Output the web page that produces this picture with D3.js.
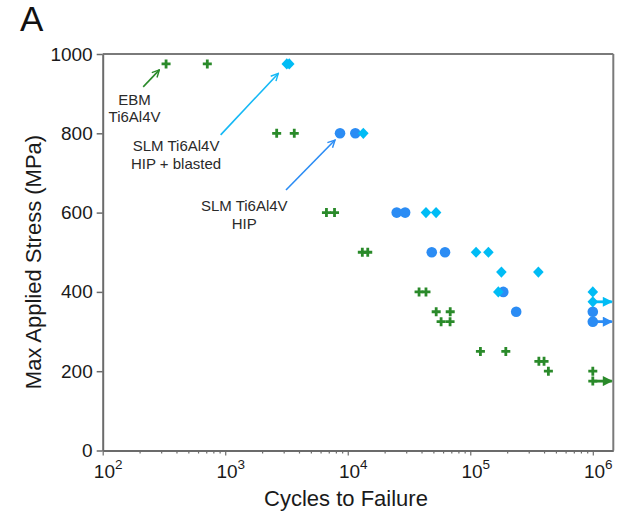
<!DOCTYPE html>
<html>
<head>
<meta charset="utf-8">
<script src="https://cdn.jsdelivr.net/npm/d3@7"></script>
<style>
  html, body { margin: 0; padding: 0; background: #fff; }
  svg { display: block; }
  svg text { font-family: "Liberation Sans", Arial, sans-serif; }
</style>
</head>
<body>
<svg id="chart" width="623" height="519"></svg>
<script>
// ---------- data ----------
const ebmN = [329, 714, 2630, 3660, 6700, 7800, 13150, 14560, 38200, 43500, 52700, 68600, 57800, 68400, 121000, 195000, 363000, 400000, 434000, 1000000, 1000000];
const ebmS = [975, 975, 800, 800, 600, 600, 500, 500, 400, 400, 350, 350, 325, 325, 250, 250, 225, 225, 200, 200, 175];

const hipN = [8650, 11530, 25100, 29400, 48500, 62200, 186000, 237000, 1000000, 1000000];
const hipS = [800, 800, 600, 600, 500, 500, 400, 350, 350, 325];

const blastN = [3180, 3330, 13400, 43500, 52600, 111500, 140600, 179500, 359500, 169400, 1000000, 1000000];
const blastS = [975, 975, 800, 600, 600, 500, 500, 450, 450, 400, 400, 375];

// run-outs (tests stopped without failure)
const runoutSeries = ["EBM", "HIP", "Blasted"];
const runoutS = [175, 325, 375];
const runoutStartN = 1000000;
const runoutEndN = 1430000;

const xTickValues = [1e2, 1e3, 1e4, 1e5, 1e6];
const xTickExp = ["2", "3", "4", "5", "6"];
const yTickValues = [0, 200, 400, 600, 800, 1000];

// annotations: arrow tail/head in data units, label lines
const annoSeries = ["EBM", "Blasted", "HIP"];
const annoTailN = [214, 918, 3133];
const annoTailS = [917, 796, 657];
const annoHeadN = [290, 2710, 7870];
const annoHeadS = [960, 951, 783];
const annoLabelN = [182, 397, 1431];
const annoLabelS = [886, 769, 617];
const annoLines = [["EBM", "Ti6Al4V"], ["SLM Ti6Al4V", "HIP + blasted"], ["SLM Ti6Al4V", "HIP"]];

const colors = { EBM: "#2a8a2a", HIP: "#2b8cf4", Blasted: "#00bcf5" };
const arrowColors = { EBM: "#2a8a2a", HIP: "#2b8cf4", Blasted: "#14b8f5" };

// ---------- layout ----------
const svg = d3.select("#chart");
const pL = 102.7, pR = 613.3, pT = 54, pB = 450.5;
const FONT = "Liberation Sans, Arial, sans-serif";

const x = d3.scaleLog().domain([100, 1.47e6]).range([pL, pR]);
const y = d3.scaleLinear().domain([0, 1000]).range([pB, pT]);

const axisColor = "#6b6b6b";

// frame top / right
svg.append("line").attr("x1", pL).attr("x2", pR).attr("y1", pT).attr("y2", pT)
  .attr("stroke", "#7a7a7a").attr("stroke-width", 2);
svg.append("line").attr("x1", pR).attr("x2", pR).attr("y1", pT).attr("y2", pB)
  .attr("stroke", "#7a7a7a").attr("stroke-width", 2);

// x axis
const minorTicks = [];
for (let e = 2; e <= 6; e++) for (let m = 2; m <= 9; m++) {
  const v = m * Math.pow(10, e);
  if (v < 1.47e6) minorTicks.push(v);
}
const gx = svg.append("g").attr("transform", `translate(0,${pB})`);
gx.call(d3.axisBottom(x).tickValues(minorTicks).tickSize(3).tickFormat(""));
gx.call(g => g.select(".domain").remove());
gx.selectAll("line").attr("stroke", axisColor).attr("stroke-width", 1.2);
const gxMaj = svg.append("g").attr("transform", `translate(0,${pB})`)
  .call(d3.axisBottom(x).tickValues(xTickValues).tickSize(5).tickSizeOuter(0).tickFormat(""));
gxMaj.attr("font-family", FONT);
gxMaj.select(".domain").attr("stroke", axisColor).attr("stroke-width", 2);
gxMaj.selectAll("line").attr("stroke", axisColor).attr("stroke-width", 1.2);
gxMaj.selectAll(".tick").each(function (d, i) {
  const t = d3.select(this).append("text")
    .attr("y", 27).attr("text-anchor", "middle").attr("fill", "#1a1a1a")
    .attr("font-family", FONT).attr("font-size", 19);
  t.append("tspan").text("10");
  t.append("tspan").attr("dy", -9).attr("font-size", 13.5).text(xTickExp[i]);
  t.attr("dx", 5);
});

// y axis
const gy = svg.append("g").attr("transform", `translate(${pL},0)`)
  .call(d3.axisLeft(y).tickValues(yTickValues).tickFormat(d3.format("d"))
    .tickSize(6).tickSizeOuter(0).tickPadding(4));
gy.attr("font-family", FONT);
gy.select(".domain").attr("stroke", axisColor).attr("stroke-width", 2);
gy.selectAll("line").attr("stroke", axisColor).attr("stroke-width", 1.5);
gy.selectAll("text").attr("font-size", 19).attr("fill", "#1a1a1a").attr("font-family", FONT);

// axis labels
svg.append("text").attr("x", 346).attr("y", 506).attr("text-anchor", "middle")
  .attr("font-family", FONT).attr("font-size", 22).attr("fill", "#1a1a1a").text("Cycles to Failure");
svg.append("text").attr("transform", "translate(41,262) rotate(-90)").attr("text-anchor", "middle")
  .attr("font-family", FONT).attr("font-size", 22).attr("fill", "#1a1a1a").text("Max Applied Stress (MPa)");

// panel letter
svg.append("text").attr("x", 20).attr("y", 31).attr("font-family", FONT)
  .attr("font-size", 35).attr("fill", "#111").text("A");

// defs for arrowheads
const defs = svg.append("defs");
Object.keys(arrowColors).forEach(k => {
  defs.append("marker").attr("id", "open-" + k).attr("viewBox", "0 0 10 10")
    .attr("refX", 9).attr("refY", 5).attr("markerWidth", 9).attr("markerHeight", 9)
    .attr("markerUnits", "userSpaceOnUse").attr("orient", "auto")
    .append("path").attr("d", "M1,1 L9,5 L1,9").attr("fill", "none")
    .attr("stroke", arrowColors[k]).attr("stroke-width", 1.6);
  defs.append("marker").attr("id", "solid-" + k).attr("viewBox", "0 0 10 10")
    .attr("refX", 9).attr("refY", 5).attr("markerWidth", 11).attr("markerHeight", 10)
    .attr("markerUnits", "userSpaceOnUse").attr("orient", "auto")
    .append("path").attr("d", "M0,0 L10,5 L0,10 Z").attr("fill", colors[k]);
});

// markers
const plusPath = "M-4.5,0H4.5M0,-4.5V4.5";
const diamondPath = "M0,-5.6L5.3,0L0,5.6L-5.3,0Z";

const ebm = ebmN.map((n, i) => ({ n, s: ebmS[i] }));
const hip = hipN.map((n, i) => ({ n, s: hipS[i] }));
const blast = blastN.map((n, i) => ({ n, s: blastS[i] }));

// run-out arrows (drawn under markers)
runoutSeries.forEach((k, i) => {
  svg.append("line")
    .attr("x1", x(runoutStartN)).attr("x2", x(runoutEndN))
    .attr("y1", y(runoutS[i])).attr("y2", y(runoutS[i]))
    .attr("stroke", colors[k]).attr("stroke-width", 2.8)
    .attr("marker-end", `url(#solid-${k})`);
});

svg.append("g").selectAll("path").data(ebm).join("path")
  .attr("d", plusPath)
  .attr("transform", d => `translate(${x(d.n)},${y(d.s)})`)
  .attr("stroke", colors.EBM).attr("stroke-width", 2.8).attr("fill", "none");

svg.append("g").selectAll("circle").data(hip).join("circle")
  .attr("cx", d => x(d.n)).attr("cy", d => y(d.s)).attr("r", 5.3)
  .attr("fill", colors.HIP);

svg.append("g").selectAll("path").data(blast).join("path")
  .attr("d", diamondPath)
  .attr("transform", d => `translate(${x(d.n)},${y(d.s)})`)
  .attr("fill", colors.Blasted);

// annotations
annoSeries.forEach((k, i) => {
  svg.append("line")
    .attr("x1", x(annoTailN[i])).attr("y1", y(annoTailS[i]))
    .attr("x2", x(annoHeadN[i])).attr("y2", y(annoHeadS[i]))
    .attr("stroke", arrowColors[k]).attr("stroke-width", 1.6)
    .attr("marker-end", `url(#open-${k})`);
  const t = svg.append("text").attr("text-anchor", "middle")
    .attr("font-family", FONT).attr("font-size", 15).attr("fill", "#2a2a2a");
  annoLines[i].forEach((line, j) => {
    t.append("tspan").attr("x", x(annoLabelN[i]))
      .attr("y", y(annoLabelS[i]) + 5.5 + j * 17.5).text(line);
  });
});
</script>
</body>
</html>
